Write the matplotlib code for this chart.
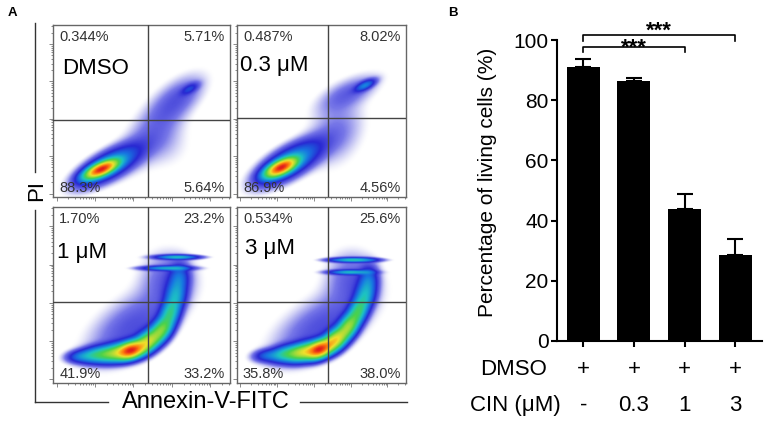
import numpy as np
import matplotlib
matplotlib.use("Agg")
import matplotlib.pyplot as plt
from matplotlib.colors import LinearSegmentedColormap
from matplotlib.lines import Line2D
from matplotlib.transforms import blended_transform_factory

plt.rcParams['font.family'] = ['Liberation Sans', 'DejaVu Sans']

# ---------------- Panel B data ----------------
cin_labels = ['-', '0.3', '1', '3']
dmso_labels = ['+', '+', '+', '+']
living = [91.0, 86.4, 43.9, 28.6]
living_err = [2.7, 0.9, 4.8, 5.2]
yticks = [0, 20, 40, 60, 80, 100]

# ---------------- Panel A data ----------------
panel_names = ['DMSO', '0.3 μM', '1 μM', '3 μM']
q_ul = ['0.344%', '0.487%', '1.70%', '0.534%']
q_ur = ['5.71%', '8.02%', '23.2%', '25.6%']
q_ll = ['88.3%', '86.9%', '41.9%', '35.8%']
q_lr = ['5.64%', '4.56%', '33.2%', '38.0%']
gate_x = [0.537, 0.54, 0.537, 0.54]
gate_y = [0.448, 0.46, 0.46, 0.46]

# estimated population components: (cx, cy, sx, sy, angle_deg, weight)
pops_dmso = [
    (0.27, 0.16, 0.06, 0.022, 25, 1.0),
    (0.31, 0.18, 0.12, 0.045, 30, 0.18),
    (0.56, 0.38, 0.18, 0.08, 52, 0.025),
    (0.64, 0.30, 0.10, 0.10, 0, 0.01),
    (0.71, 0.58, 0.12, 0.06, 40, 0.03),
    (0.77, 0.63, 0.035, 0.016, 30, 0.06),
]
pops_03 = [
    (0.26, 0.17, 0.06, 0.024, 25, 1.0),
    (0.31, 0.20, 0.13, 0.05, 30, 0.18),
    (0.59, 0.38, 0.14, 0.10, 62, 0.025),
    (0.67, 0.61, 0.13, 0.05, 25, 0.03),
    (0.76, 0.65, 0.04, 0.015, 25, 0.12),
]
pops_1 = [
    (0.15, 0.15, 0.05, 0.022, 5, 0.1),
    (0.25, 0.16, 0.06, 0.028, 8, 0.25),
    (0.36, 0.17, 0.06, 0.03, 12, 0.45),
    (0.44, 0.185, 0.045, 0.028, 20, 1.0),
    (0.53, 0.23, 0.05, 0.032, 40, 0.55),
    (0.61, 0.30, 0.05, 0.032, 55, 0.4),
    (0.66, 0.40, 0.05, 0.032, 70, 0.25),
    (0.69, 0.50, 0.05, 0.035, 80, 0.16),
    (0.71, 0.60, 0.05, 0.035, 85, 0.1),
    (0.45, 0.32, 0.19, 0.10, 35, 0.045),
    (0.65, 0.60, 0.10, 0.10, 0, 0.035),
    (0.70, 0.716, 0.075, 0.008, 0, 0.22),
    (0.64, 0.653, 0.085, 0.008, 0, 0.18),
]
pops_3 = [
    (0.17, 0.155, 0.05, 0.022, 5, 0.09),
    (0.29, 0.165, 0.06, 0.028, 10, 0.25),
    (0.40, 0.175, 0.06, 0.03, 15, 0.55),
    (0.49, 0.19, 0.045, 0.028, 25, 1.0),
    (0.58, 0.24, 0.05, 0.032, 40, 0.65),
    (0.66, 0.32, 0.05, 0.032, 55, 0.45),
    (0.72, 0.41, 0.05, 0.032, 65, 0.28),
    (0.76, 0.50, 0.05, 0.035, 75, 0.17),
    (0.78, 0.59, 0.05, 0.035, 85, 0.1),
    (0.50, 0.32, 0.21, 0.10, 30, 0.045),
    (0.68, 0.60, 0.10, 0.10, 0, 0.035),
    (0.69, 0.70, 0.085, 0.008, 0, 0.25),
    (0.67, 0.63, 0.075, 0.008, 0, 0.2),
]
panel_pops = [pops_dmso, pops_03, pops_1, pops_3]

W, H = 765, 422
fig = plt.figure(figsize=(W / 100, H / 100), dpi=100)

def rect(l, t, r, b):
    return [l / W, 1 - b / H, (r - l) / W, (b - t) / H]

panel_rects = [rect(53, 25, 230, 197), rect(237, 25, 406, 197),
               rect(53, 207, 230, 383), rect(237, 207, 406, 383)]
name_pos = [(0.05, 0.75), (0.018, 0.767), (0.023, 0.744), (0.047, 0.767)]

cmap = LinearSegmentedColormap.from_list('flow', [
    (0.0, '#ffffff'), (0.15, '#c0c0f0'), (0.35, '#6a6ae6'), (0.5, '#1c1cd0'),
    (0.62, '#0a70e0'), (0.72, '#10c0c0'), (0.8, '#40d040'), (0.9, '#f0e020'),
    (0.96, '#ff7000'), (1.0, '#e01010')])

gx = np.linspace(0, 1, 260)
gy = np.linspace(0, 1, 260)
X, Y = np.meshgrid(gx, gy)

# log-decade tick positions
tick_major = [d / 4.6 + 0.02 for d in range(5)]
tick_minor = [(d + np.log10(k)) / 4.6 + 0.02 for d in range(5) for k in range(2, 10)]
tick_minor = [t for t in tick_minor if t < 1]

for i in range(4):
    ax = fig.add_axes(panel_rects[i])
    D = np.zeros_like(X)
    for (cx, cy, sx, sy, ang, w) in panel_pops[i]:
        a = np.deg2rad(ang)
        u = (X - cx) * np.cos(a) + (Y - cy) * np.sin(a)
        v = -(X - cx) * np.sin(a) + (Y - cy) * np.cos(a)
        D += w * np.exp(-0.5 * ((u / sx) ** 2 + (v / sy) ** 2))
    t = 1 + np.log10(np.maximum(D / D.max(), 1e-9)) / 2.5
    t = np.clip(t, 0, 1)
    rgba = cmap(t)
    rgba[..., 3] = np.clip((t - 0.04) / 0.3, 0, 1) * 0.95
    ax.imshow(rgba, extent=(0, 1, 0, 1), origin='lower', aspect='auto',
              interpolation='bilinear', zorder=1)
    ax.set_xlim(0, 1)
    ax.set_ylim(0, 1)
    ax.axvline(gate_x[i], color='#444444', lw=1.0, zorder=3)
    ax.axhline(gate_y[i], color='#444444', lw=1.0, zorder=3)
    for s in ax.spines.values():
        s.set_color('#666666')
        s.set_linewidth(1.0)
    ax.set_xticks(tick_major)
    ax.set_yticks(tick_major)
    ax.set_xticks(tick_minor, minor=True)
    ax.set_yticks(tick_minor, minor=True)
    ax.tick_params(which='both', direction='out', color='#777777',
                   labelbottom=False, labelleft=False, width=0.6)
    ax.tick_params(which='major', length=3)
    ax.tick_params(which='minor', length=1.5)
    pc = '#333333'
    fs = 10.5
    ax.text(0.035, 0.93, q_ul[i], transform=ax.transAxes, ha='left', va='center', fontsize=fs, color=pc, zorder=4)
    ax.text(0.97, 0.93, q_ur[i], transform=ax.transAxes, ha='right', va='center', fontsize=fs, color=pc, zorder=4)
    ax.text(0.035, 0.05, q_ll[i], transform=ax.transAxes, ha='left', va='center', fontsize=fs, color=pc, zorder=4)
    ax.text(0.97, 0.05, q_lr[i], transform=ax.transAxes, ha='right', va='center', fontsize=fs, color=pc, zorder=4)
    ax.text(name_pos[i][0], name_pos[i][1], panel_names[i], transform=ax.transAxes,
            ha='left', va='center', fontsize=16, color='black', zorder=4)

# axis titles for panel A
lc = '#333333'
fig.add_artist(Line2D([35 / W, 35 / W], [1 - 23 / H, 1 - 172 / H], color=lc, lw=1.0))
fig.add_artist(Line2D([35 / W, 35 / W], [1 - 210 / H, 1 - 402 / H], color=lc, lw=1.0))
fig.add_artist(Line2D([35 / W, 108 / W], [1 - 402 / H, 1 - 402 / H], color=lc, lw=1.0))
fig.add_artist(Line2D([300 / W, 407 / W], [1 - 402 / H, 1 - 402 / H], color=lc, lw=1.0))
fig.text(37 / W, 1 - 191 / H, 'PI', rotation=90, ha='center', va='center', fontsize=16)
fig.text(206 / W, 1 - 402 / H, 'Annexin-V-FITC', ha='center', va='center', fontsize=17)
fig.text(12 / W, 1 - 13 / H, 'A', ha='center', va='center', fontsize=9.5, fontweight='bold')
fig.text(453 / W, 1 - 13 / H, 'B', ha='center', va='center', fontsize=9.5, fontweight='bold')

# ---------------- Panel B ----------------
axb = fig.add_axes(rect(557, 40, 762, 341))
xs = np.arange(len(living))
axb.bar(xs, living, width=0.65, color='black', zorder=2)
axb.errorbar(xs, living, yerr=[[0] * len(living), living_err], fmt='none',
             ecolor='black', elinewidth=1.5, capsize=5.5, capthick=1.5, zorder=1)
axb.set_xlim(-0.52, 3.53)
axb.set_ylim(0, 100)
axb.set_yticks(yticks)
axb.set_yticklabels([str(v) for v in yticks], fontsize=15)
axb.set_xticks(xs)
axb.set_xticklabels([])
axb.spines['top'].set_visible(False)
axb.spines['right'].set_visible(False)
axb.spines['left'].set_linewidth(1.5)
axb.spines['bottom'].set_linewidth(1.5)
axb.tick_params(axis='both', direction='out', length=4, width=1.5, pad=2)

tr = blended_transform_factory(axb.transData, axb.transAxes)
for x, d, c in zip(xs, dmso_labels, cin_labels):
    axb.text(x, -0.096, d, transform=tr, ha='center', va='center', fontsize=16)
    axb.text(x, -0.213, c, transform=tr, ha='center', va='center', fontsize=16)
axb.text(-0.71, -0.096, 'DMSO', transform=tr, ha='right', va='center', fontsize=16)
axb.text(-0.45, -0.213, 'CIN (μM)', transform=tr, ha='right', va='center', fontsize=16)

fig.text(488 / W, 1 - 182 / H, 'Percentage of living cells (%)', rotation=90,
         ha='center', va='center', fontsize=15)

# significance brackets
def bracket(x0, x1, y, tip, text_y):
    axb.plot([x0, x0, x1, x1], [y - tip, y, y, y - tip], color='black', lw=1.2, clip_on=False)
    axb.text((x0 + x1) / 2, text_y, '***', ha='center', va='baseline', fontsize=16,
             fontweight='bold', clip_on=False)

bracket(0, 3, 101.8, 2.0, 101.2)
bracket(0, 2, 97.6, 1.6, 95.5)

fig.savefig('out.png', dpi=100)
